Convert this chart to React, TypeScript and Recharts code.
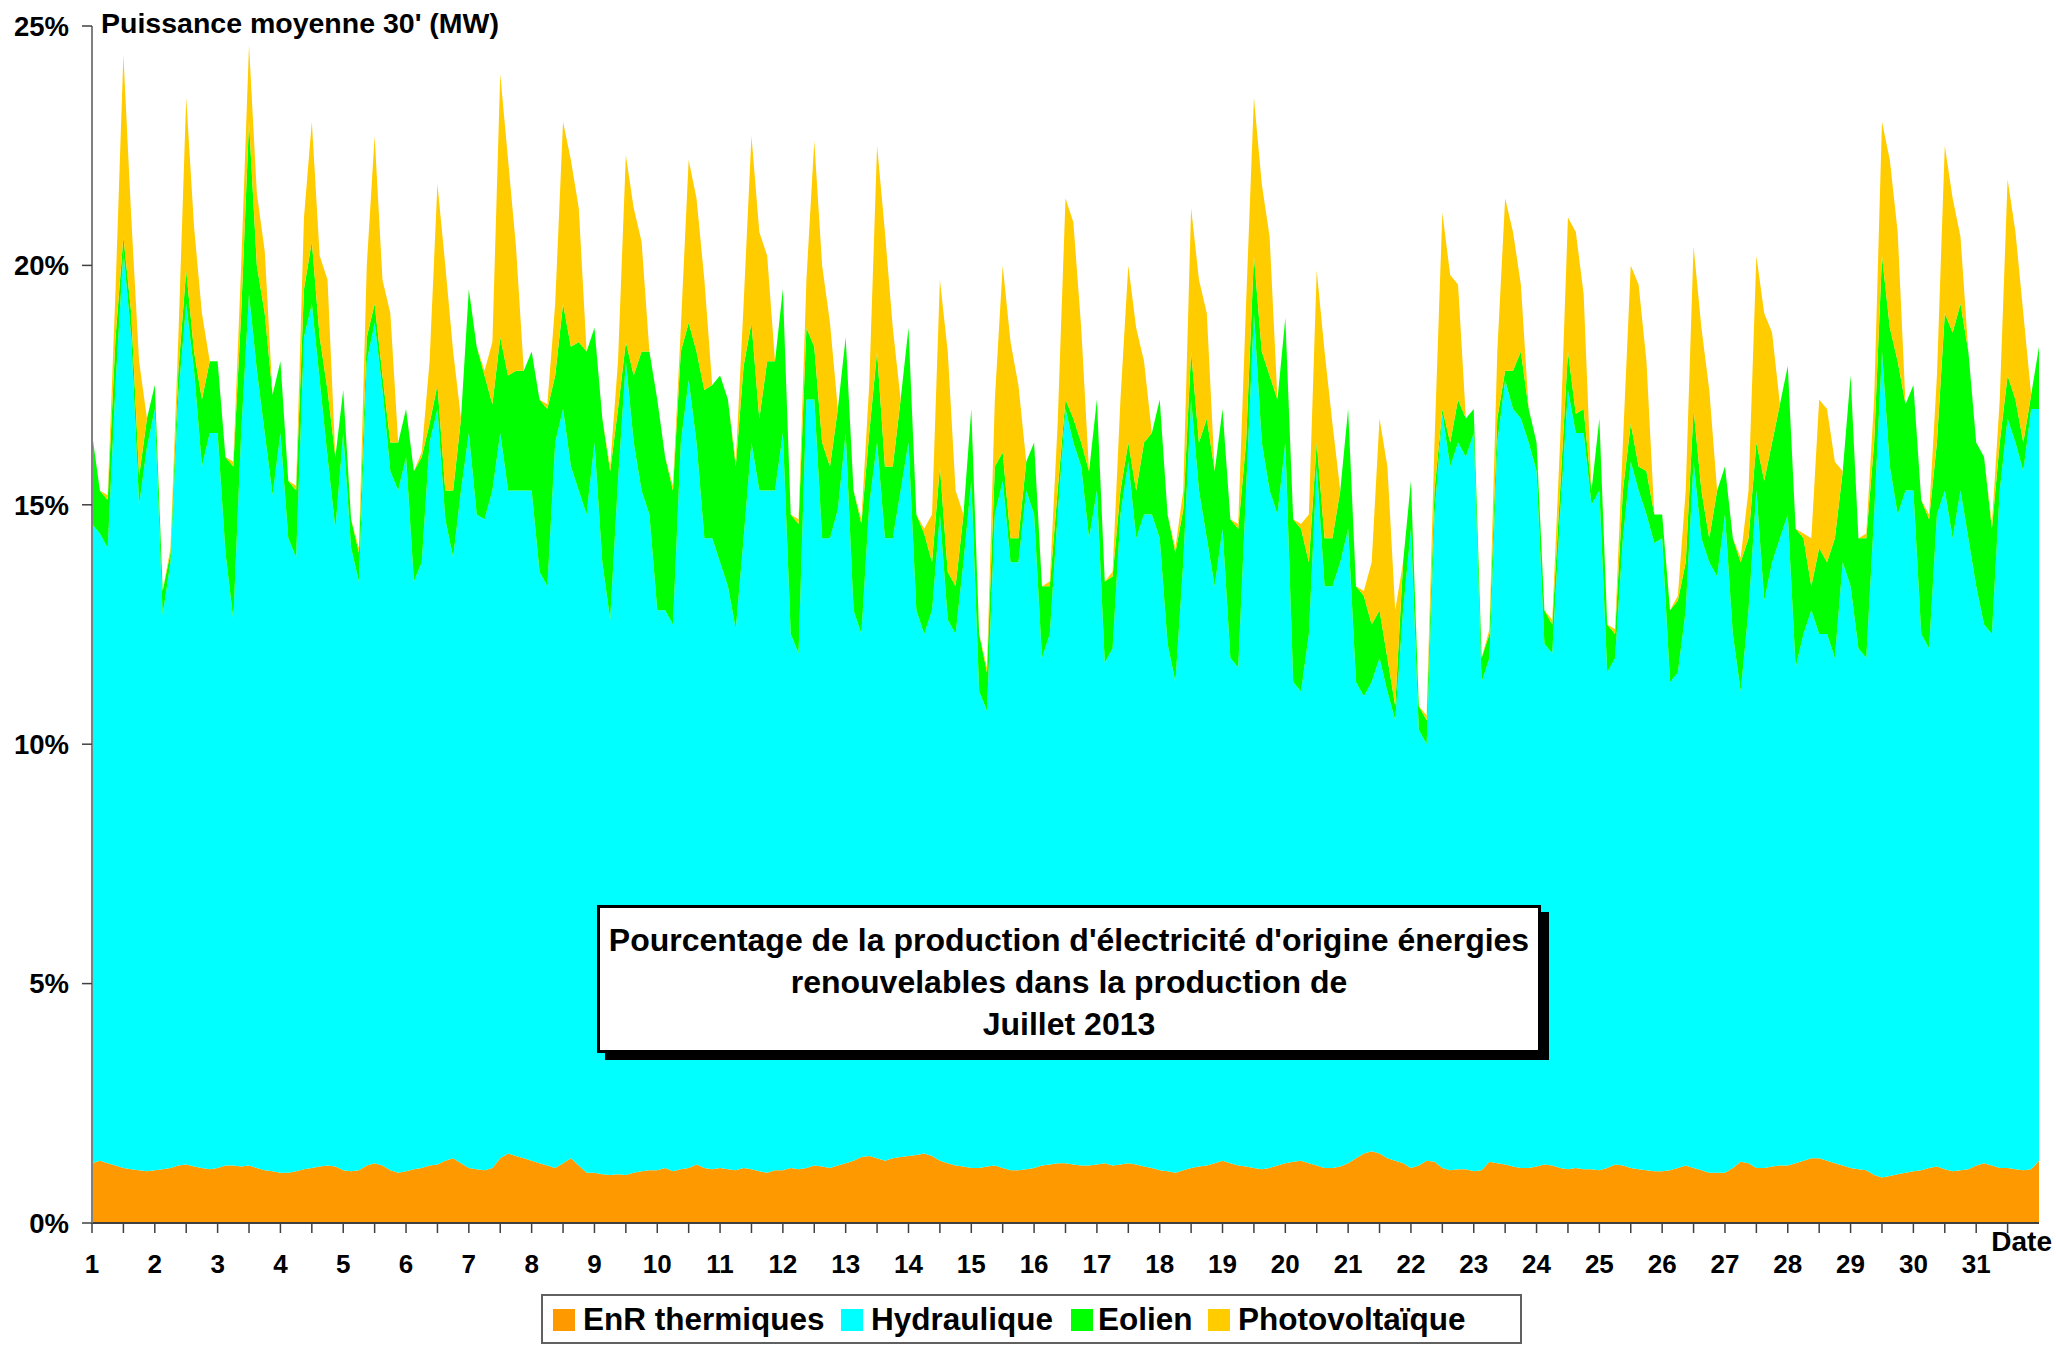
import React from "react";
import { AreaChart, Area, XAxis, YAxis } from "recharts";

// ── données : pas de 3 h, du 1er juillet 0h au 1er août 0h ────────────────────

const pasHeures = 3;

// % de la production (8 valeurs par jour + point final)
const thermique = [
  1.25, 1.30, 1.25, 1.20, 1.15, 1.12, 1.10, 1.08,
  1.10, 1.12, 1.15, 1.20, 1.22, 1.18, 1.15, 1.12,
  1.15, 1.20, 1.20, 1.18, 1.20, 1.15, 1.10, 1.08,
  1.05, 1.05, 1.08, 1.12, 1.15, 1.18, 1.20, 1.18,
  1.10, 1.08, 1.10, 1.20, 1.25, 1.20, 1.10, 1.05,
  1.08, 1.12, 1.15, 1.20, 1.22, 1.30, 1.35, 1.25,
  1.15, 1.12, 1.10, 1.15, 1.35, 1.45, 1.40, 1.35,
  1.30, 1.25, 1.20, 1.15, 1.25, 1.35, 1.20, 1.05,
  1.05, 1.02, 1.00, 1.02, 1.00, 1.05, 1.08, 1.10,
  1.10, 1.15, 1.08, 1.12, 1.15, 1.22, 1.15, 1.12,
  1.15, 1.12, 1.10, 1.15, 1.12, 1.08, 1.05, 1.10,
  1.10, 1.15, 1.12, 1.15, 1.20, 1.18, 1.15, 1.20,
  1.25, 1.30, 1.38, 1.40, 1.35, 1.30, 1.35, 1.38,
  1.40, 1.42, 1.45, 1.40, 1.30, 1.25, 1.20, 1.18,
  1.15, 1.15, 1.18, 1.20, 1.15, 1.10, 1.10, 1.12,
  1.15, 1.20, 1.22, 1.25, 1.25, 1.22, 1.20, 1.20,
  1.22, 1.25, 1.20, 1.22, 1.25, 1.22, 1.18, 1.15,
  1.10, 1.08, 1.05, 1.10, 1.15, 1.18, 1.20, 1.25,
  1.30, 1.25, 1.20, 1.18, 1.15, 1.12, 1.15, 1.20,
  1.25, 1.28, 1.30, 1.25, 1.20, 1.15, 1.15, 1.18,
  1.25, 1.35, 1.45, 1.50, 1.45, 1.35, 1.30, 1.25,
  1.15, 1.20, 1.30, 1.28, 1.15, 1.10, 1.12, 1.12,
  1.08, 1.10, 1.28, 1.25, 1.22, 1.18, 1.15, 1.15,
  1.18, 1.22, 1.20, 1.15, 1.12, 1.15, 1.12, 1.12,
  1.10, 1.15, 1.22, 1.20, 1.15, 1.12, 1.10, 1.08,
  1.08, 1.10, 1.15, 1.20, 1.15, 1.10, 1.05, 1.05,
  1.05, 1.15, 1.28, 1.25, 1.15, 1.15, 1.18, 1.20,
  1.20, 1.25, 1.30, 1.35, 1.35, 1.30, 1.25, 1.20,
  1.15, 1.12, 1.10, 1.00, 0.95, 0.98, 1.02, 1.05,
  1.08, 1.10, 1.15, 1.18, 1.12, 1.08, 1.10, 1.12,
  1.20, 1.25, 1.20, 1.15, 1.15, 1.12, 1.10, 1.12,
  1.30,
];

const hydraulique = [
  13.35, 13.10, 12.85, 16.30, 19.15, 17.38, 13.90, 15.12,
  15.90, 11.58, 12.65, 16.10, 17.98, 16.62, 14.65, 15.38,
  15.35, 12.80, 11.40, 15.32, 18.20, 16.65, 15.40, 14.12,
  15.45, 13.25, 12.82, 17.38, 18.05, 16.42, 14.80, 13.32,
  15.40, 13.02, 12.30, 16.80, 17.55, 16.20, 14.60, 14.25,
  14.92, 12.28, 12.65, 15.10, 15.78, 13.40, 12.55, 14.05,
  15.35, 13.68, 13.60, 14.15, 15.15, 13.85, 13.90, 13.95,
  14.00, 12.35, 12.10, 15.15, 15.75, 14.45, 14.10, 13.75,
  15.25, 12.78, 11.60, 14.48, 17.00, 15.25, 14.22, 13.70,
  11.70, 11.65, 11.42, 15.18, 16.45, 15.08, 13.15, 13.18,
  12.65, 12.18, 11.30, 13.15, 15.18, 14.22, 14.25, 14.20,
  15.40, 11.15, 10.78, 16.05, 16.00, 13.12, 13.15, 13.70,
  15.25, 11.50, 10.92, 13.60, 14.95, 13.00, 12.95, 13.92,
  14.90, 11.38, 10.85, 11.40, 13.50, 11.35, 11.10, 12.62,
  14.35, 9.95, 9.52, 13.60, 14.35, 12.70, 12.70, 14.18,
  13.65, 10.60, 11.08, 13.55, 15.75, 15.08, 14.60, 13.10,
  14.08, 10.45, 10.80, 13.58, 14.65, 13.08, 13.62, 13.65,
  13.20, 11.02, 10.25, 12.70, 16.05, 14.12, 13.10, 12.05,
  13.20, 10.55, 10.40, 14.12, 17.85, 15.18, 14.15, 13.60,
  15.05, 10.02, 9.80, 11.05, 14.60, 12.15, 12.15, 12.62,
  13.25, 9.95, 9.55, 9.80, 10.35, 9.75, 9.20, 11.55,
  13.35, 9.10, 8.70, 13.52, 15.75, 14.70, 15.18, 14.88,
  15.42, 10.20, 10.52, 15.05, 16.38, 15.82, 15.65, 15.15,
  14.52, 10.88, 10.70, 13.65, 16.28, 15.35, 15.38, 13.88,
  14.20, 10.35, 10.58, 13.10, 14.75, 14.18, 13.70, 13.12,
  13.22, 10.20, 10.35, 11.60, 14.75, 13.20, 12.75, 12.45,
  13.75, 11.15, 9.82, 11.55, 14.15, 11.85, 12.62, 13.10,
  13.60, 10.35, 11.00, 11.45, 10.95, 11.00, 10.55, 12.60,
  12.15, 10.88, 10.70, 13.80, 17.25, 14.82, 13.78, 14.25,
  14.22, 11.20, 10.85, 13.62, 14.18, 13.22, 14.20, 13.18,
  12.10, 11.25, 11.10, 14.15, 15.65, 15.18, 14.60, 15.88,
  15.70,
];

const eolien = [
  1.9, 0.9, 1.0, 1.0, 0.3, 0.5, 0.6, 0.6,
  0.5, 0.5, 0.2, 0.5, 0.7, 0.4, 1.4, 1.5,
  1.5, 2.0, 3.2, 2.5, 3.6, 2.2, 2.5, 2.1,
  1.5, 1.2, 1.4, 1.0, 1.3, 0.9, 1.4, 1.5,
  0.9, 0.6, 0.6, 0.5, 0.4, 0.3, 0.6, 1.0,
  1.0, 2.3, 2.2, 0.4, 0.5, 0.6, 1.4, 1.5,
  3.0, 3.5, 3.0, 1.8, 2.0, 2.4, 2.5, 2.5,
  2.9, 3.6, 3.7, 1.4, 2.2, 2.5, 3.1, 3.4,
  2.4, 3.0, 3.1, 1.5, 0.4, 1.4, 2.9, 3.4,
  4.4, 3.2, 2.8, 1.9, 1.2, 1.9, 3.1, 3.2,
  3.9, 3.9, 3.4, 3.6, 2.5, 1.5, 2.7, 2.7,
  3.0, 2.5, 2.7, 1.5, 1.1, 2.0, 1.5, 2.1,
  2.0, 2.5, 2.3, 1.5, 1.9, 1.5, 1.5, 1.9,
  2.4, 2.0, 2.1, 1.0, 1.0, 1.0, 1.0, 1.0,
  1.5, 1.2, 0.8, 1.0, 0.6, 0.5, 0.5, 0.6,
  1.5, 1.5, 1.0, 0.5, 0.2, 0.5, 0.5, 1.4,
  1.9, 1.7, 1.5, 0.5, 0.4, 1.0, 1.5, 1.7,
  2.9, 2.7, 2.7, 1.1, 1.0, 1.0, 2.5, 2.4,
  2.5, 2.9, 2.9, 1.0, 1.2, 1.9, 2.4, 2.4,
  2.6, 3.4, 3.4, 1.5, 0.5, 1.0, 1.0, 1.5,
  2.5, 2.0, 2.1, 1.2, 1.0, 0.7, 0.3, 1.0,
  1.0, 0.5, 0.5, 0.5, 0.1, 0.5, 0.9, 0.8,
  0.5, 0.5, 0.5, 0.5, 0.2, 0.8, 1.4, 0.7,
  0.6, 0.7, 0.6, 0.5, 0.8, 0.4, 0.5, 0.3,
  1.5, 1.0, 0.5, 1.0, 0.8, 0.5, 0.9, 0.6,
  0.5, 1.5, 1.5, 1.0, 1.1, 1.0, 0.5, 1.8,
  1.0, 2.0, 2.7, 1.5, 1.0, 2.5, 2.5, 2.8,
  3.1, 2.9, 2.0, 0.5, 1.8, 1.5, 2.5, 1.9,
  4.4, 2.3, 2.5, 1.5, 2.0, 2.9, 3.2, 1.8,
  2.2, 2.8, 2.7, 1.5, 3.7, 4.3, 3.9, 3.9,
  3.0, 3.5, 2.2, 1.0, 0.9, 0.9, 0.6, 0.3,
  1.3,
];

const photovoltaique = [
  0, 0, 0.1, 1.0, 3.8, 2.0, 2.4, 0,
  0, 0, 0.1, 0.7, 3.6, 2.6, 1.8, 0,
  0, 0, 0.1, 1.0, 1.6, 1.5, 1.3, 0,
  0, 0, 0.1, 1.5, 2.5, 1.7, 2.3, 0,
  0, 0, 0.1, 1.5, 3.5, 2.0, 2.7, 0,
  0, 0, 0.1, 1.3, 4.2, 4.7, 2.9, 0,
  0, 0, 0.1, 1.3, 5.5, 4.5, 2.6, 0,
  0, 0, 0.1, 1.5, 3.8, 3.9, 2.8, 0,
  0, 0, 0.1, 1.0, 3.9, 3.5, 2.3, 0,
  0, 0, 0.1, 0.5, 3.4, 3.2, 2.3, 0,
  0, 0, 0.1, 1.3, 3.9, 3.9, 2.2, 0,
  0, 0, 0.1, 1.0, 4.3, 3.7, 3.0, 0,
  0, 0, 0.1, 1.0, 4.3, 4.9, 2.9, 0,
  0, 0, 0.1, 1.0, 3.9, 4.6, 2.0, 0,
  0, 0, 0.1, 1.4, 3.9, 4.1, 3.2, 0,
  0, 0, 0.1, 1.4, 4.2, 4.1, 2.4, 0,
  0, 0, 0.1, 1.9, 3.7, 3.4, 1.7, 0,
  0, 0, 0.1, 0.4, 3.0, 3.4, 2.2, 0,
  0, 0, 0.1, 2.9, 3.3, 3.5, 2.9, 0,
  0, 0, 0.1, 1.0, 3.6, 3.9, 2.4, 0,
  0, 0, 0.1, 1.3, 4.0, 4.0, 2.0, 0,
  0, 0, 0.1, 1.0, 4.1, 3.5, 2.4, 0,
  0, 0, 0.1, 1.4, 3.6, 2.9, 1.4, 0,
  0, 0, 0.1, 1.0, 2.8, 3.8, 2.4, 0,
  0, 0, 0.1, 1.0, 3.3, 3.8, 2.3, 0,
  0, 0, 0.1, 1.5, 3.4, 3.4, 3.1, 0,
  0, 0, 0.1, 1.0, 3.9, 3.5, 2.3, 0,
  0, 0, 0.1, 1.0, 3.1, 3.2, 1.6, 0,
  0, 0, 0.1, 0.9, 2.8, 3.5, 2.7, 0,
  0, 0, 0.1, 1.4, 3.5, 2.8, 1.4, 0,
  0, 0, 0.1, 0.9, 4.1, 3.5, 2.7, 0,
  0,
];

const jours = [
  "1", "2", "3", "4", "5", "6", "7", "8", "9", "10", "11", "12", "13", "14", "15", "16",
  "17", "18", "19", "20", "21", "22", "23", "24", "25", "26", "27", "28", "29", "30", "31",
];

const yTicks = [0, 5, 10, 15, 20, 25];

const series = [
  { key: "thermique", name: "EnR thermiques", color: "#FF9900" },
  { key: "hydraulique", name: "Hydraulique", color: "#00FFFF" },
  { key: "eolien", name: "Eolien", color: "#00FF00" },
  { key: "photovoltaique", name: "Photovoltaïque", color: "#FFCC00" },
];

// ── table pour recharts ──────────────────────────────────────────────────────

const data = thermique.map((v, i) => ({
  t: (i * pasHeures) / 24,
  thermique: v,
  hydraulique: hydraulique[i],
  eolien: eolien[i],
  photovoltaique: photovoltaique[i],
}));

// graduation à chaque jour, petite graduation à midi
const xTicks = jours.flatMap((_, i) => [i, i + 0.5]);

const FONT = "'Liberation Sans', Arial, Helvetica, sans-serif";

// positions des éléments de la légende (px, dans le cadre)
const legendPos = [
  { sq: 10, tx: 40 },
  { sq: 298, tx: 328 },
  { sq: 528, tx: 555 },
  { sq: 665, tx: 695 },
];

export default function App() {
  return (
    <div
      style={{
        position: "absolute",
        left: 0,
        top: 0,
        width: 2056,
        height: 1350,
        background: "#fff",
        fontFamily: FONT,
        overflow: "hidden",
      }}
    >
      <AreaChart
        width={2056}
        height={1350}
        data={data}
        margin={{ top: 26, right: 17, bottom: 67, left: 12 }}
      >
        <XAxis
          dataKey="t"
          type="number"
          domain={[0, 31]}
          ticks={xTicks}
          interval={0}
          allowDecimals
          height={60}
          tickSize={10}
          tickMargin={22}
          tickFormatter={(v: number) => (Number.isInteger(v) ? jours[v] : "")}
          axisLine={{ stroke: "#404040", strokeWidth: 2 }}
          tickLine={{ stroke: "#404040", strokeWidth: 1.5 }}
          tick={{ fontSize: 26, fontWeight: 700, fill: "#000", fontFamily: FONT }}
        />
        <YAxis
          type="number"
          domain={[0, 25]}
          ticks={yTicks}
          interval={0}
          width={80}
          tickSize={10}
          tickMargin={13}
          tickFormatter={(v: number) => `${v}%`}
          axisLine={{ stroke: "#808080", strokeWidth: 2 }}
          tickLine={{ stroke: "#404040", strokeWidth: 1.5 }}
          tick={{ fontSize: 27.5, fontWeight: 700, fill: "#000", fontFamily: FONT }}
        />
        {series.map((s) => (
          <Area
            key={s.key}
            type="linear"
            dataKey={s.key}
            name={s.name}
            stackId="1"
            stroke="none"
            fill={s.color}
            fillOpacity={1}
            dot={false}
            activeDot={false}
            isAnimationActive={false}
          />
        ))}
      </AreaChart>

      {/* titre de l'axe Y */}
      <div
        style={{
          position: "absolute",
          left: 101,
          top: 8,
          fontSize: 28.5,
          fontWeight: 700,
          lineHeight: "30px",
          whiteSpace: "nowrap",
        }}
      >
        Puissance moyenne 30' (MW)
      </div>

      {/* titre de l'axe X */}
      <div
        style={{
          position: "absolute",
          right: 4,
          top: 1227,
          fontSize: 28,
          fontWeight: 700,
          lineHeight: "30px",
        }}
      >
        Date
      </div>

      {/* cartouche du titre */}
      <div
        style={{
          position: "absolute",
          left: 597,
          top: 905,
          width: 944,
          height: 148,
          boxSizing: "border-box",
          border: "3px solid #000",
          boxShadow: "8px 7px 0 #000",
          background: "#fff",
          textAlign: "center",
          fontSize: 32,
          fontWeight: 700,
          lineHeight: "42px",
          paddingTop: 11,
          whiteSpace: "nowrap",
        }}
      >
        Pourcentage de la production d'électricité d'origine énergies
        <br />
        renouvelables dans la production de
        <br />
        Juillet 2013
      </div>

      {/* légende */}
      <div
        style={{
          position: "absolute",
          left: 541,
          top: 1294,
          width: 981,
          height: 50,
          boxSizing: "border-box",
          border: "2px solid #606060",
          background: "#fff",
        }}
      >
        {series.map((s, i) => (
          <React.Fragment key={s.key}>
            <div
              style={{
                position: "absolute",
                left: legendPos[i].sq,
                top: 13,
                width: 22,
                height: 22,
                background: s.color,
              }}
            />
            <div
              style={{
                position: "absolute",
                left: legendPos[i].tx,
                top: 6,
                fontSize: 31.5,
                fontWeight: 700,
                lineHeight: "34px",
                whiteSpace: "nowrap",
              }}
            >
              {s.name}
            </div>
          </React.Fragment>
        ))}
      </div>
    </div>
  );
}
